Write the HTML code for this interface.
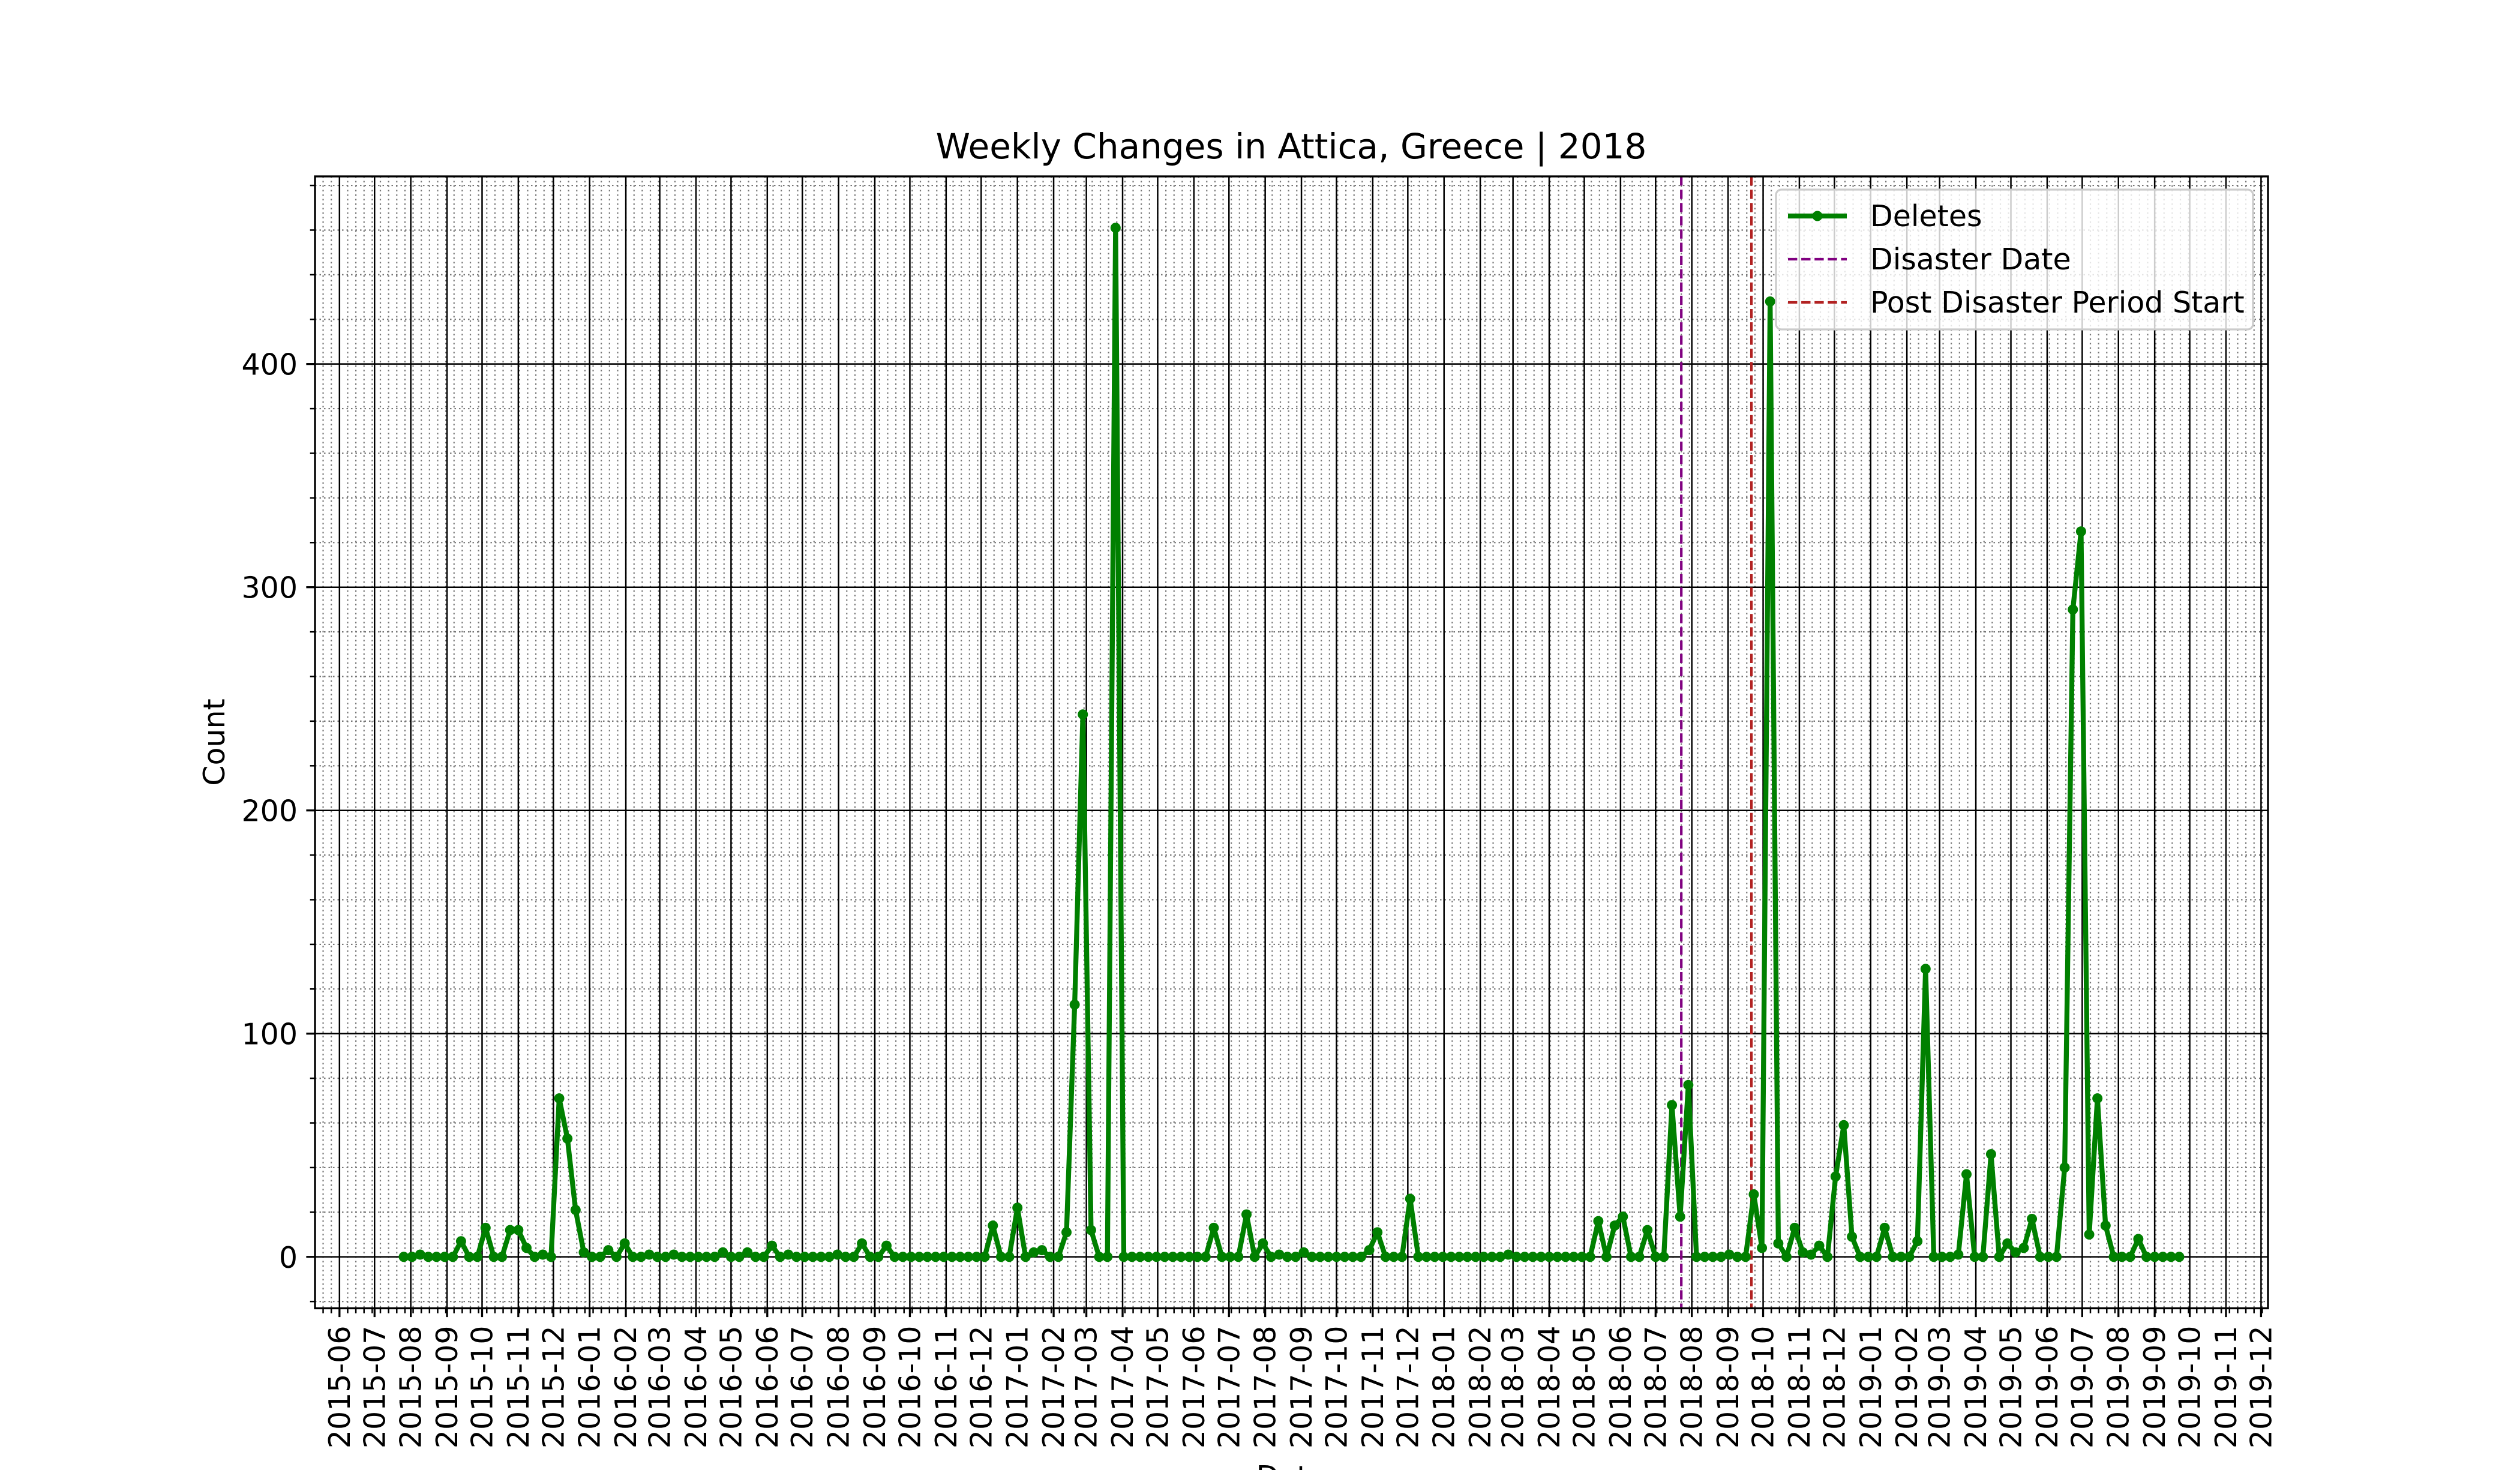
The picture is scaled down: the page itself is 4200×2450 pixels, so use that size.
<!DOCTYPE html>
<html>
<head>
<meta charset="utf-8">
<style>
  html, body { margin: 0; padding: 0; background: #fff; }
  svg { display: block; font-family: "DejaVu Sans", "Liberation Sans", sans-serif; }
</style>
</head>
<body>
<svg id="chart" xmlns="http://www.w3.org/2000/svg" width="4200" height="2450" viewBox="0 0 4200 2450">
  <rect x="0" y="0" width="4200" height="2450" fill="#ffffff"/>
  <g id="grid"></g>
  <g id="markers-layer"></g>
  <g id="series"></g>
  <g id="axes"></g>
  <text x="2152" y="264" text-anchor="middle" font-size="58" fill="#000">Weekly Changes in Attica, Greece | 2018</text>
  <text x="0" y="0" transform="translate(374,1237) rotate(-90)" text-anchor="middle" font-size="49" fill="#000">Count</text>
  <text x="2152" y="2478" text-anchor="middle" font-size="49" fill="#000">Date</text>
  <g id="legend"></g>
</svg>
<script>
// ---- data ----
const startDate = "2015-07-26";          // first weekly bucket
const nonZeroWeeks = [2,7,10,13,14,15,17,19,20,21,22,25,27,30,33,39,42,45,47,53,56,59,
  72,75,77,78,81,82,83,84,87,99,103,105,107,110,118,119,123,135,
  146,148,149,152,155,156,157,162,165,166,167,168,170,171,172,173,175,176,177,181,185,186,
  190,191,194,196,197,198,199,203,204,205,206,207,208,212];
const nonZeroValues = [1,7,13,12,12,4,1,71,53,21,2,3,6,1,1,2,2,5,1,1,6,5,
  14,22,2,3,11,113,243,12,461,13,19,6,1,2,3,11,26,1,
  16,14,18,12,68,18,77,1,28,4,428,6,13,2,1,5,36,59,9,13,7,129,
  1,37,46,6,2,4,17,40,290,325,10,71,14,8];
const weekCount = 218;
const disasterDate = "2018-07-23";
const postDisasterDate = "2018-09-21";
const yTicks = [0,100,200,300,400];
const legendLabels = ["Deletes","Disaster Date","Post Disaster Period Start"];

// ---- build series ----
const counts = new Array(weekCount).fill(0);
nonZeroWeeks.forEach((w,i)=>{ counts[w] = nonZeroValues[i]; });

const DAY = 86400000;
const t0 = Date.parse(startDate + "T00:00:00Z");
const dates = counts.map((_,i)=> t0 + i*7*DAY);

// ---- axes geometry ----
const AX = {x0:525, x1:3780, y0:294, y1:2180.5};
const spanDays = (dates[dates.length-1]-dates[0])/DAY;
const xMinD = -0.05*spanDays, xMaxD = spanDays*1.05;
const maxV = Math.max(...counts), minV = Math.min(...counts);
const yMin = minV - 0.05*(maxV-minV), yMax = maxV + 0.05*(maxV-minV);
function xs(t){ const d=(t-dates[0])/DAY; return AX.x0 + (d-xMinD)/(xMaxD-xMinD)*(AX.x1-AX.x0); }
function ys(v){ return AX.y1 - (v-yMin)/(yMax-yMin)*(AX.y1-AX.y0); }

const NS="http://www.w3.org/2000/svg";
function mk(tag, attrs, parent){ const e=document.createElementNS(NS,tag); for(const k in attrs) e.setAttribute(k,attrs[k]); parent.appendChild(e); return e; }

const grid=document.getElementById('grid');
const axes=document.getElementById('axes');
const series=document.getElementById('series');
const ev=document.getElementById('markers-layer');
const legend=document.getElementById('legend');

// minor y grid every 20
for(let v=Math.ceil(yMin/20)*20; v<=yMax; v+=20){
  const y=ys(v);
  if(v%100!==0){
    const l=mk('line',{x1:AX.x0,x2:AX.x1,y1:y,y2:y,stroke:'#777',"stroke-width":2.2,"stroke-dasharray":"2.5,5"},grid);
    
    
  }
  const tk=mk('line',{x1:AX.x0-8.3,x2:AX.x0,y1:y,y2:y,stroke:'#000',"stroke-width":2.5},axes);
  
  
}
// minor x grid weekly (Mondays)
function minorX(t){
  const x=xs(t);
  const l=mk('line',{x1:x,x2:x,y1:AX.y0,y2:AX.y1,stroke:'#777',"stroke-width":2.2,"stroke-dasharray":"2.5,5"},grid);
  
  
  const tk=mk('line',{x1:x,x2:x,y1:AX.y1,y2:AX.y1+8.3,stroke:'#000',"stroke-width":2.5},axes);
  
  
}
for(let t=t0+DAY; xs(t)<=AX.x1; t+=7*DAY){ if(xs(t)>=AX.x0) minorX(t); }
for(let t=t0-7*DAY+DAY; xs(t)>=AX.x0; t-=7*DAY){ minorX(t); }
// major y
yTicks.forEach(v=>{
  const y=ys(v);
  const g=mk('line',{x1:AX.x0,x2:AX.x1,y1:y,y2:y,stroke:'#000',"stroke-width":2.5},grid);
  
  
  const tk=mk('line',{x1:AX.x0-14.6,x2:AX.x0,y1:y,y2:y,stroke:'#000',"stroke-width":3.3},axes);
  
  
  const tx=mk('text',{x:AX.x0-29,y:y+18,"text-anchor":"end","font-size":49,fill:'#000'},axes);
  tx.textContent=String(v);
  
  
});
// major x: month starts
const sd=new Date(dates[0]+xMinD*DAY);
let yy=sd.getUTCFullYear(), mm=sd.getUTCMonth()+1;
while(true){
  const t=Date.UTC(yy,mm,1);
  const x=xs(t);
  if(x>AX.x1+0.5) break;
  if(x>=AX.x0){
    const g=mk('line',{x1:x,x2:x,y1:AX.y0,y2:AX.y1,stroke:'#000',"stroke-width":2.5},grid);
    
    
    const tk=mk('line',{x1:x,x2:x,y1:AX.y1,y2:AX.y1+14.6,stroke:'#000',"stroke-width":3.3},axes);
    
    
    const d=new Date(t);
    const lbl=d.getUTCFullYear()+'-'+String(d.getUTCMonth()+1).padStart(2,'0');
    const tx=mk('text',{x:0,y:0,transform:`translate(${x+17},${AX.y1+29}) rotate(-90)`,"text-anchor":"end","font-size":49,fill:'#000'},axes);
    tx.textContent=lbl;
    
    
  }
  mm++; if(mm>11){mm=0;yy++;}
}
// spines
const sp=mk('rect',{x:AX.x0,y:AX.y0,width:AX.x1-AX.x0,height:AX.y1-AX.y0,fill:'none',stroke:'#000',"stroke-width":3.3},axes);



// event lines
const tDis=Date.parse(disasterDate+"T00:00:00Z"), tPost=Date.parse(postDisasterDate+"T00:00:00Z");
const dl=mk('line',{x1:xs(tDis),x2:xs(tDis),y1:AX.y0,y2:AX.y1,stroke:'#800080',"stroke-width":4.2,"stroke-dasharray":"15.4,6.7"},ev);


const pl=mk('line',{x1:xs(tPost),x2:xs(tPost),y1:AX.y0,y2:AX.y1,stroke:'#b22222',"stroke-width":4.2,"stroke-dasharray":"15.4,6.7"},ev);



// series line + markers
const pts=counts.map((v,i)=>xs(dates[i]).toFixed(1)+','+ys(v).toFixed(1)).join(' ');
const pline=mk('polyline',{points:pts,fill:'none',stroke:'#008000',"stroke-width":8.3,"stroke-linejoin":"round"},series);


counts.forEach((v,i)=>{
  const c=mk('circle',{cx:xs(dates[i]),cy:ys(v),r:8.5,fill:'#008000'},series);
  
  
});

// legend
const LX=2960, LY=316, LW=795, LH=233;
const lb=mk('rect',{x:LX,y:LY,width:LW,height:LH,rx:9,fill:'#ffffff','fill-opacity':0.8,stroke:'#cccccc',"stroke-width":3.3},legend);


const rowY=[360,432,504];
const hx0=LX+20, hx1=LX+20+98;
const h1=mk('line',{x1:hx0,x2:hx1,y1:rowY[0],y2:rowY[0],stroke:'#008000',"stroke-width":8.3},legend);


const h1c=mk('circle',{cx:(hx0+hx1)/2,cy:rowY[0],r:8.5,fill:'#008000'},legend);


const h2=mk('line',{x1:hx0,x2:hx1,y1:rowY[1],y2:rowY[1],stroke:'#800080',"stroke-width":4.2,"stroke-dasharray":"15.4,6.7"},legend);


const h3=mk('line',{x1:hx0,x2:hx1,y1:rowY[2],y2:rowY[2],stroke:'#b22222',"stroke-width":4.2,"stroke-dasharray":"15.4,6.7"},legend);


legendLabels.forEach((s,i)=>{
  const t=mk('text',{x:LX+157,y:rowY[i]+17,"font-size":49,fill:'#000'},legend);
  t.textContent=s;
  
  
});
</script>
</body>
</html>
